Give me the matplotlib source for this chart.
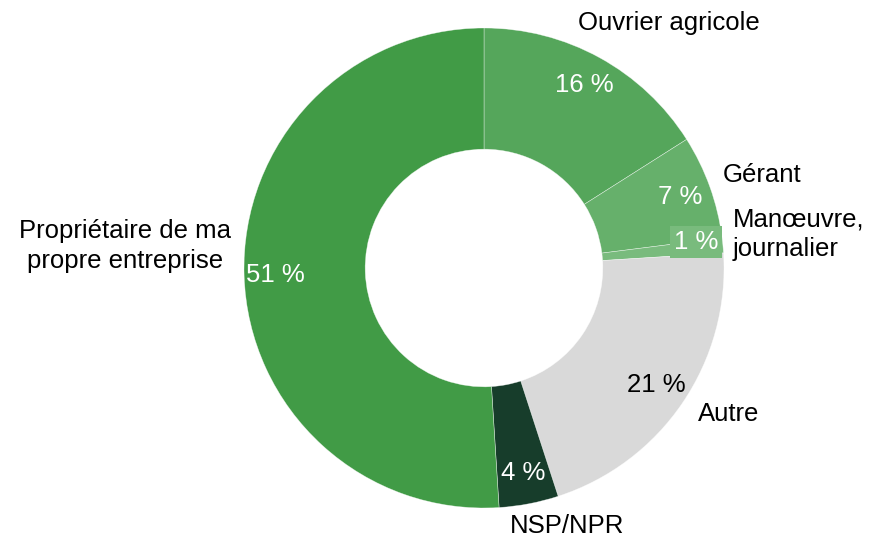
import matplotlib
matplotlib.use("Agg")
import matplotlib.pyplot as plt

plt.rcParams["font.family"] = ["Liberation Sans", "DejaVu Sans"]

# Répartition des statuts, dans l'ordre horaire depuis midi
categories = [
    "Ouvrier agricole",
    "Gérant",
    "Manœuvre,\njournalier",
    "Autre",
    "NSP/NPR",
    "Propriétaire de ma\npropre entreprise",
]
shares = [16, 7, 1, 21, 4, 51]
colors = ["#55a65b", "#66b06b", "#79bb7d", "#d9d9d9", "#173d2b", "#419b46"]
pct_colors = ["white", "white", "white", "black", "white", "white"]

W, H = 874, 540
cx, cy = 484, H - 268
R = 240
FS = 18.5

fig = plt.figure(figsize=(W / 100, H / 100), dpi=100)
ax = fig.add_axes([0, 0, 1, 1])

wedges, _, pcts = ax.pie(
    shares,
    colors=colors,
    startangle=90,
    counterclock=False,
    center=(cx, cy),
    radius=R,
    autopct=lambda p: f"{p:.0f} %",
    pctdistance=0.87,
    wedgeprops=dict(width=R * 0.505, edgecolor=(1, 1, 1, 0.6), linewidth=0.4),
    textprops=dict(fontsize=FS),
    frame=True,
)
ax.set_xlim(0, W)
ax.set_ylim(0, H)
ax.set_aspect("equal")
ax.axis("off")

for t, c in zip(pcts, pct_colors):
    t.set_color(c)
# la petite part est étiquetée sur un fond de sa couleur
pcts[2].set_bbox(dict(facecolor=colors[2], edgecolor="none", pad=2.5))
pcts[2].set_position((cx + 212, cy + 26))

# étiquettes de catégorie (décalages en pixels depuis le centre)
label_pos = [
    (185, 245, "center"),
    (278, 93, "center"),
    (249, 34, "left"),
    (245, -146, "center"),
    (83, -258, "center"),
    (-359, 22, "center"),
]
for name, (dx, dy, ha) in zip(categories, label_pos):
    ax.text(cx + dx, cy + dy, name, ha=ha, va="center", fontsize=FS,
            color="black", linespacing=1.3)

fig.savefig("out.png", dpi=100)
